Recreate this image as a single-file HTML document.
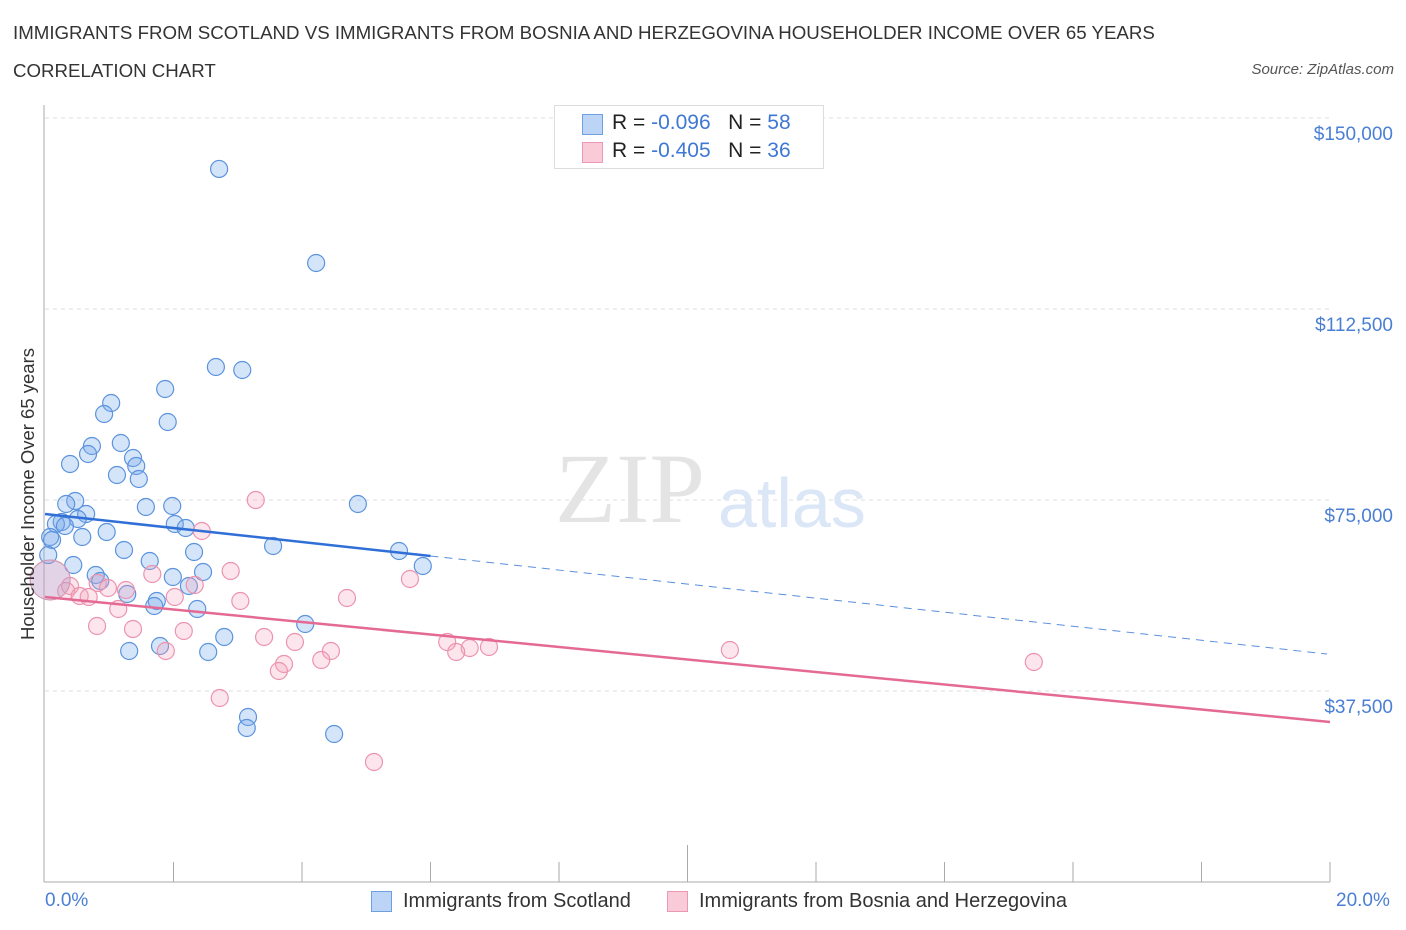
<!DOCTYPE html>
<html><head><meta charset="utf-8">
<style>
body{margin:0;background:#fff;font-family:"Liberation Sans",sans-serif;}
#wrap{position:relative;width:1406px;height:930px;overflow:hidden;}
.t{position:absolute;white-space:nowrap;}
</style></head>
<body>
<div id="wrap">
<div class="t" style="left:13px;top:22px;font-size:18.7px;color:#333;">IMMIGRANTS FROM SCOTLAND VS IMMIGRANTS FROM BOSNIA AND HERZEGOVINA HOUSEHOLDER INCOME OVER 65 YEARS</div>
<div class="t" style="left:13px;top:60px;font-size:18.7px;color:#333;">CORRELATION CHART</div>
<div class="t" style="right:12px;top:61px;font-size:15px;color:#555;font-style:italic;">Source: ZipAtlas.com</div>
<svg id="svg" width="1406" height="930" style="position:absolute;left:0;top:0"></svg>
</div>
<script>
const yTicks=[37500,75000,112500,150000];
const yTickLabels=["$37,500","$75,000","$112,500","$150,000"];
const scotX=[2.71,4.22,2.66,3.07,1.87,1.03,0.92,1.91,1.18,0.73,0.67,1.37,1.42,0.39,1.12,1.46,0.47,0.33,1.57,1.98,4.87,0.64,0.51,0.26,0.17,0.31,2.02,2.19,0.08,0.11,0.58,0.96,1.23,2.32,3.55,5.51,1.63,0.44,5.88,2.46,0.79,1.99,0.86,2.24,1.28,1.74,1.70,2.37,4.05,2.79,1.79,1.31,2.54,3.16,3.14,4.50,0.05];
const scotY=[140000,121534,101115,100526,96796,94047,91887,90316,86193,85604,84034,83248,81677,82070,79910,79125,74806,74217,73628,73824,74217,72253,71271,70682,70290,69897,70290,69504,67737,67148,67737,68719,65185,64792,65970,64989,63025,62240,62043,60865,60276,59884,59098,58117,56546,55172,54190,53601,50656,48103,46336,45355,45158,32396,30236,29058,64200];
const bosX=[3.28,2.44,1.67,2.89,0.82,0.39,0.33,1.26,2.33,5.68,0.98,0.54,0.68,3.04,4.70,2.02,1.14,0.81,1.37,2.16,3.41,3.89,6.26,6.61,6.91,6.40,4.45,4.30,1.88,3.72,3.64,10.66,15.39,2.72,5.12];
const bosY=[75002,68915,60473,61062,58706,58117,57135,57331,58313,59491,57724,56153,55957,55172,55761,55957,53601,50263,49674,49281,48103,47122,47122,45944,46140,45158,45355,43588,45355,42802,41428,45551,43195,36127,23561];
const bigX=[0.08];const bigY=[59300];
const scotTrend=[72253,44766];const scotSolidEnd=[6.0];
const bosTrend=[55957,31414];
const X=v=>45+v*64.25, Y=v=>882-v/196.34;
const s=document.getElementById('svg');const NS='http://www.w3.org/2000/svg';
function mk(t,a){const e=document.createElementNS(NS,t);for(const k in a)e.setAttribute(k,a[k]);s.appendChild(e);return e;}
let e;
yTicks.forEach((v,i)=>{e=mk('line',{x1:45,x2:1330,y1:Y(v),y2:Y(v),stroke:'#ddd','stroke-dasharray':'4,4'});


e=mk('text',{x:1393,y:Y(v)+22,'text-anchor':'end','font-size':19,fill:'#4a7fd4'});e.textContent=yTickLabels[i];

});
e=mk('line',{x1:44,x2:44,y1:105,y2:882,stroke:'#aaa'});
e=mk('line',{x1:44,x2:1330,y1:882,y2:882,stroke:'#aaa'});
for(let i=1;i<=10;i++){e=mk('line',{x1:45+i*128.5,x2:45+i*128.5,y1:882,y2:i==5?845:862,stroke:'#aaa'});

}
e=mk('text',{x:555,y:522,'font-size':100,fill:'#e4e4e4','font-family':'Liberation Serif'});e.textContent='ZIP';

e=mk('text',{x:718,y:527,'font-size':70,fill:'#dbe6f7'});e.textContent='atlas';

scotX.forEach((x,i)=>{e=mk('circle',{cx:X(x),cy:Y(scotY[i]),r:8.5,fill:'rgba(120,170,235,0.32)',stroke:'#5b93dd','stroke-width':1.2});

});
bosX.forEach((x,i)=>{e=mk('circle',{cx:X(x),cy:Y(bosY[i]),r:8.5,fill:'rgba(245,160,185,0.28)',stroke:'#ec93ae','stroke-width':1.2});

});
bigX.forEach((x,i)=>{e=mk('circle',{cx:X(x),cy:Y(bigY[i]),r:20,fill:'rgba(190,160,200,0.45)',stroke:'#d39ab5','stroke-width':1.2});

});
const sy=scotTrend[0]+(scotTrend[1]-scotTrend[0])*scotSolidEnd[0]/20;
e=mk('line',{x1:X(0),y1:Y(scotTrend[0]),x2:X(scotSolidEnd[0]),y2:Y(sy),stroke:'#2f6fd6','stroke-width':2.5});

e=mk('line',{x1:X(scotSolidEnd[0]),y1:Y(sy),x2:X(20)-3,y2:Y(scotTrend[1]),stroke:'#5b8fdc','stroke-width':1,'stroke-dasharray':'8,6'});

e=mk('line',{x1:X(0),y1:Y(bosTrend[0]),x2:X(20),y2:Y(bosTrend[1]),stroke:'#e46a94','stroke-width':2.5});

</script>
<div class="t" style="left:28px;top:494px;font-size:18.5px;color:#333;transform:translate(-50%,-50%) rotate(-90deg);">Householder Income Over 65 years</div>
<div class="t" style="left:45px;top:890px;font-size:19px;color:#4a7fd4;">0.0%</div>
<div class="t" style="left:1336px;top:890px;font-size:19px;color:#4a7fd4;">20.0%</div>
<div style="position:absolute;left:554px;top:105px;width:268px;height:62px;border:1px solid #ddd;background:#fff;font-size:21px;color:#222;">
 <div style="position:absolute;left:27px;top:8px;width:19px;height:19px;background:#bcd5f7;border:1px solid #6e9fe0;"></div>
 <div class="t" style="left:57px;top:5px;">R = <span style="color:#3f78d4">-0.096</span>&nbsp;&nbsp;&nbsp;N = <span style="color:#3f78d4">58</span></div>
 <div style="position:absolute;left:27px;top:36px;width:19px;height:19px;background:#f9cbd9;border:1px solid #ec98b2;"></div>
 <div class="t" style="left:57px;top:33px;">R = <span style="color:#3f78d4">-0.405</span>&nbsp;&nbsp;&nbsp;N = <span style="color:#3f78d4">36</span></div>
</div>
<div style="position:absolute;left:371px;top:890px;font-size:20px;color:#333;">
 <div style="position:absolute;left:0;top:1px;width:19px;height:19px;background:#bcd5f7;border:1px solid #6e9fe0;"></div>
 <div class="t" style="left:32px;top:0;">Immigrants from Scotland</div>
 <div style="position:absolute;left:296px;top:1px;width:19px;height:19px;background:#f9cbd9;border:1px solid #ec98b2;"></div>
 <div class="t" style="left:328px;top:0;">Immigrants from Bosnia and Herzegovina</div>
</div>
</body></html>
